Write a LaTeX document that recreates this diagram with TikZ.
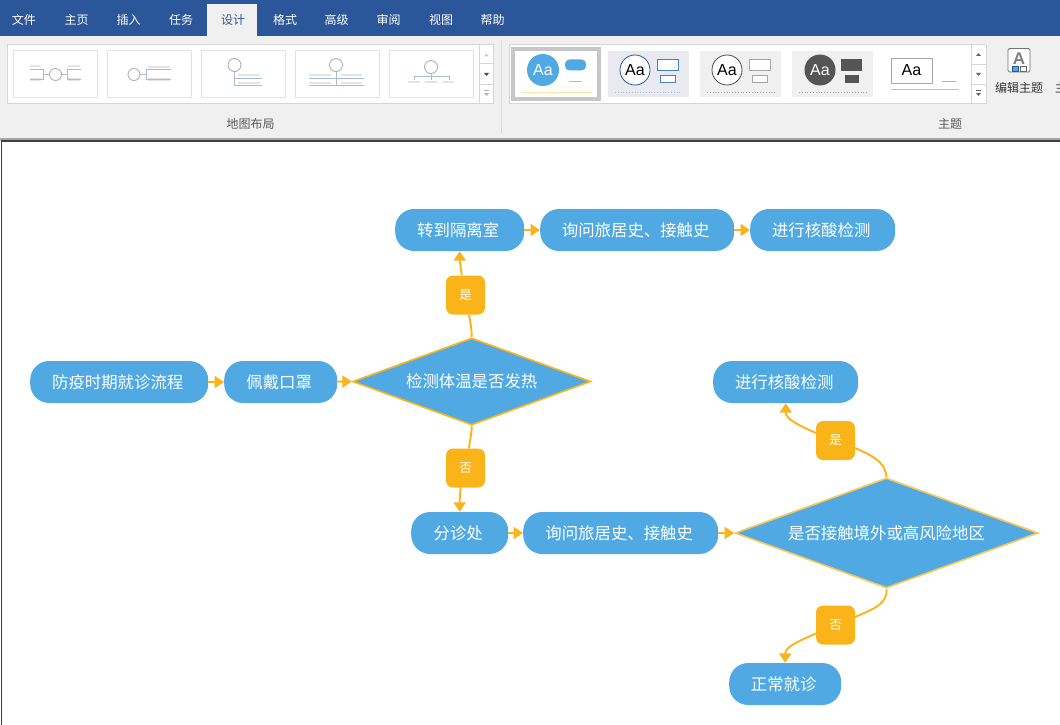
\documentclass[tikz,border=0pt]{standalone}
\usepackage{fontspec}
\setmainfont{Liberation Sans}
\newfontfamily\cjk{Noto Sans CJK SC}
\usetikzlibrary{shapes.geometric,arrows.meta}
\definecolor{barblue}{HTML}{2B579A}
\definecolor{ribbon}{HTML}{F0F0F0}
\definecolor{pillblue}{HTML}{50A9E3}
\definecolor{amber}{HTML}{FBB31A}
\definecolor{framegray}{HTML}{D6D6D6}
\definecolor{linkblue}{HTML}{A6BDD2}
\definecolor{barlight}{HTML}{E4E4E4}
\definecolor{ringgray}{HTML}{B0B0B0}
\definecolor{darkfill}{HTML}{555555}
\tikzset{
  pill/.style={draw=none,fill=pillblue,rounded corners=19pt,minimum height=42pt,inner sep=0pt,text=white,font=\cjk\fontsize{16.4pt}{18pt}\selectfont,anchor=west,execute at end node=\kern3pt},
  decide/.style={diamond,draw=amber,fill=pillblue,line width=1.6pt,inner sep=0pt,text=white,font=\cjk\fontsize{16.4pt}{18pt}\selectfont},
  tag/.style={fill=amber,rounded corners=7pt,minimum width=39pt,minimum height=39pt,inner sep=0pt,text=white,font=\cjk\fontsize{12.5pt}{14pt}\selectfont},
  link/.style={draw=amber,line width=1.9pt,-{Triangle[length=9.5pt,width=12pt]}},
  plainlink/.style={draw=amber,line width=1.9pt},
  tabtext/.style={font=\cjk\fontsize{12pt}{14pt}\selectfont,text=white,inner sep=0pt},
  ribtext/.style={font=\cjk\fontsize{12pt}{14pt}\selectfont,text=black!65,inner sep=0pt},
  thumb/.style={draw=framegray!70,fill=white,line width=0.8pt},
  gal/.style={draw=framegray,fill=white,line width=0.9pt},
  ring/.style={draw=ringgray,fill=white,line width=0.9pt},
  wire/.style={draw=linkblue,line width=0.9pt},
  lite/.style={draw=barlight,line width=2pt},
  aa/.style={font=\fontsize{16pt}{18pt}\selectfont,inner sep=0pt},
}
\begin{document}
\begin{tikzpicture}[x=1pt,y=-1pt]
\useasboundingbox (0,0) rectangle (1060,725);
% application chrome
\fill[white] (0,0) rectangle (1060,725);
\fill[ribbon] (0,36) rectangle (1060,138);
\fill[barblue] (0,0) rectangle (1060,36);
\fill[ribbon] (207,4) rectangle (257,37);
\fill[black!35] (0,138) rectangle (1060,139.5);
\fill[black!15] (0,139.5) rectangle (1060,140.3);
\draw[black!75,line width=1.4pt] (1.2,725) -- (1.2,141) -- (1060,141);
\node[tabtext] (tabA) at (24,19.5) {文件};
\node[tabtext] (tabB) at (76.5,19.5) {主页};
\node[tabtext] (tabC) at (128.5,19.5) {插入};
\node[tabtext] (tabD) at (181,19.5) {任务};
\node[tabtext,text=barblue] (tabE) at (233,19.5) {设计};
\node[tabtext] (tabF) at (285,19.5) {格式};
\node[tabtext] (tabG) at (336.5,19.5) {高级};
\node[tabtext] (tabH) at (388.5,19.5) {审阅};
\node[tabtext] (tabI) at (441,19.5) {视图};
\node[tabtext] (tabJ) at (492.5,19.5) {帮助};
\draw[black!15,line width=0.8pt] (501,40) -- (501,133);
% layout gallery
\draw[gal] (7.5,44.5) rectangle (493.5,103.5);
\draw[thumb] (13,50.5) rectangle (97,97.5);
\draw[thumb] (107,50.5) rectangle (191,97.5);
\draw[thumb] (201,50.5) rectangle (285,97.5);
\draw[thumb] (295,50.5) rectangle (379,97.5);
\draw[thumb] (389,50.5) rectangle (473,97.5);
\draw[framegray,line width=0.8pt] (479.5,44.5) -- (479.5,103.5) (479.5,63.5) -- (493.5,63.5) (479.5,84.5) -- (493.5,84.5);
\fill[black!20] (484,56.5) -- (489,56.5) -- (486.5,53.5) -- cycle;
\fill[black!70] (484,73) -- (489,73) -- (486.5,76) -- cycle;
\fill[black!30] (484,93) -- (489,93) -- (486.5,96) -- cycle;
\draw[black!30,line width=0.7pt] (484,90.5) -- (489,90.5);
% thumbnail 1
\draw[lite] (30,66.5) -- (41,66.5) (30,79.5) -- (41,79.5) (68,66.5) -- (80,66.5) (68,79.5) -- (80,79.5);
\draw[wire] (30,69) -- (43.5,69) -- (43.5,79) -- (30,79) (43.5,74.5) -- (49,74.5) (61,74.5) -- (67.5,74.5) (81,69) -- (67.5,69) -- (67.5,79) -- (81,79);
\draw[ring] (55.5,74.5) circle (6);
% thumbnail 2
\draw[lite] (148,67.5) -- (170,67.5) (148,79.5) -- (170,79.5);
\draw[wire] (171,69.5) -- (146,69.5) -- (146,79) -- (171,79) (140,74.5) -- (146,74.5);
\draw[ring] (134,74.5) circle (6);
% thumbnail 3
\draw[lite] (238,75) -- (260,75) (238,82.5) -- (260,82.5);
\draw[wire] (234.5,71) -- (234.5,85.5) -- (262,85.5) (234.5,78) -- (262,78);
\draw[ring] (234.5,65) circle (6.5);
% thumbnail 4
\draw[lite] (309,75) -- (331,75) (341,75) -- (362,75) (309,82.5) -- (331,82.5) (341,82.5) -- (362,82.5);
\draw[wire] (336,71) -- (336,85.5) (309,78) -- (364,78) (309,85.5) -- (364,85.5);
\draw[ring] (336,65) circle (6.5);
% thumbnail 5
\draw[lite] (408,81.5) -- (420,81.5) (425,81.5) -- (437,81.5) (443,81.5) -- (454,81.5);
\draw[wire] (431,73) -- (431,76) (414,79.5) -- (414,76) -- (449,76) -- (449,79.5) (431,76) -- (431,79.5);
\draw[ring] (431,67) circle (6.5);
\node[ribtext] (layoutLabel) at (250.5,124) {地图布局};
% theme gallery
\draw[gal] (509.5,44.5) rectangle (986,103.5);
\draw[framegray,line width=0.8pt] (971,44.5) -- (971,103.5) (971,64) -- (986,64) (971,84) -- (986,84);
\fill[black!60] (976,56) -- (981,56) -- (978.5,53) -- cycle;
\fill[black!60] (976,73) -- (981,73) -- (978.5,76) -- cycle;
\fill[black!60] (976,93) -- (981,93) -- (978.5,96) -- cycle;
\draw[black!60,line width=0.7pt] (976,90.5) -- (981,90.5);
\draw[draw=black!22,fill=white,line width=4pt] (513,49) rectangle (599,99);
\fill[pillblue] (543,70) circle (16);
\node[aa,text=white] (aa1) at (543,70) {Aa};
\fill[pillblue,rounded corners=4.5pt] (565,59.5) rectangle (586,70.5);
\draw[linkblue,line width=0.8pt] (569,81.5) -- (582,81.5);
\draw[amber!40,line width=1pt] (522,92) -- (592,92);
\fill[blue!3!ribbon] (608,51) rectangle (689,97);
\draw[draw=barblue,fill=white,line width=0.8pt] (635,70) circle (15);
\node[aa] (aa2) at (635,70) {Aa};
\draw[draw=pillblue!80!black,fill=white,line width=0.8pt] (657,59.5) rectangle (678,70.5);
\draw[draw=pillblue!80!black,fill=white,line width=0.8pt] (660.5,75.5) rectangle (675,82.5);
\draw[linkblue,dotted,line width=0.8pt] (615,92) -- (682,92);
\fill[ribbon] (700,51) rectangle (781,97);
\draw[draw=black!70,fill=white,line width=0.8pt] (727,70) circle (15);
\node[aa] (aa3) at (727,70) {Aa};
\draw[draw=black!35,fill=white,line width=0.9pt] (749,59.5) rectangle (770,70.5);
\draw[draw=black!35,fill=white,line width=0.9pt] (752.5,75.5) rectangle (767,82.5);
\draw[black!35,dotted,line width=0.8pt] (707,92) -- (775,92);
\fill[ribbon] (792,51) rectangle (873,97);
\fill[darkfill] (820,70) circle (15.5);
\node[aa,text=white] (aa4) at (820,70) {Aa};
\fill[darkfill] (841,59.5) rectangle (862,71);
\fill[darkfill] (845,75) rectangle (859,82.5);
\draw[black!35,dotted,line width=0.8pt] (799,92) -- (867,92);
\draw[draw=black!35,fill=white,line width=0.8pt] (891.5,58) rectangle (932,83);
\node[aa] (aa5) at (911.5,70) {Aa};
\draw[black!30,line width=0.8pt] (942,81.5) -- (956,81.5);
\draw[black!25,line width=0.8pt] (891,89.5) -- (959,89.5);
% edit-theme button
\draw[draw=black!55,fill=white,rounded corners=1.5pt,line width=0.8pt] (1008,48.5) rectangle (1030,72);
\node[font=\bfseries\fontsize{17pt}{18pt}\selectfont,text=black!50,inner sep=0pt] (editA) at (1019,59) {A};
\draw[draw=barblue,fill=pillblue,line width=0.5pt] (1012,66) rectangle (1018,71);
\draw[draw=black!60,fill=white,line width=0.5pt] (1020,66) rectangle (1026,71);
\node[ribtext,text=black!80] (editLabel) at (1019,87.5) {编辑主题};
\node[ribtext,text=black!80] (colorLabel) at (1061,87.5) {主};
\node[ribtext] (themeLabel) at (950,124) {主题};
% flow nodes
\node[pill,minimum width=178pt] (start) at (30,382) {防疫时期就诊流程};
\node[pill,minimum width=113pt] (mask) at (224,382) {佩戴口罩};
\node[decide,minimum width=238pt,minimum height=87pt,aspect=2.74] (temp) at (471.7,381.5) {检测体温是否发热};
\node[pill,minimum width=129pt] (iso) at (395,230) {转到隔离室};
\node[pill,minimum width=194pt] (askA) at (540,230) {询问旅居史、接触史};
\node[pill,minimum width=145pt] (testA) at (750,230) {进行核酸检测};
\node[tag] (yesA) at (465.5,295) {是};
\node[tag] (noA) at (465.5,468) {否};
\node[pill,minimum width=97pt] (triage) at (411,533) {分诊处};
\node[pill,minimum width=195pt] (askB) at (523,533) {询问旅居史、接触史};
\node[decide,draw=amber!75!white,minimum width=303pt,minimum height=110pt,aspect=2.75] (risk) at (886.5,533) {是否接触境外或高风险地区};
\node[pill,minimum width=145pt] (testB) at (713,382) {进行核酸检测};
\node[tag] (yesB) at (835.5,440.5) {是};
\node[tag] (noB) at (835.5,625) {否};
\node[pill,minimum width=112pt] (normal) at (729,684) {正常就诊};
% connectors
\draw[link] (start) -- (mask);
\draw[link] (mask) -- (temp.west);
\draw[link] (iso) -- (askA);
\draw[link] (askA) -- (testA);
\draw[link] (triage) -- (askB);
\draw[link] (askB) -- (risk.west);
\draw[plainlink] (temp.north) to[out=-90+180,in=-80] ([xshift=3.5pt]yesA.south);
\draw[link] ([xshift=-3.8pt]yesA.north) to[out=97,in=-90] (iso.south);
\draw[plainlink] (temp.south) to[out=-90,in=85] ([xshift=3.5pt]noA.north);
\draw[link] ([xshift=-4.8pt]noA.south) to[out=-97,in=90] (triage.north);
\draw[plainlink] (risk.north) to[out=95,in=-25] ([yshift=-7.5pt]yesB.east);
\draw[link] ([yshift=7.5pt]yesB.west) to[out=155,in=-90] (testB.south);
\draw[plainlink] (risk.south) to[out=-85,in=25] ([yshift=8pt]noB.east);
\draw[link] ([yshift=-8.5pt]noB.west) to[out=205,in=90] (normal.north);
\end{tikzpicture}
\end{document}
